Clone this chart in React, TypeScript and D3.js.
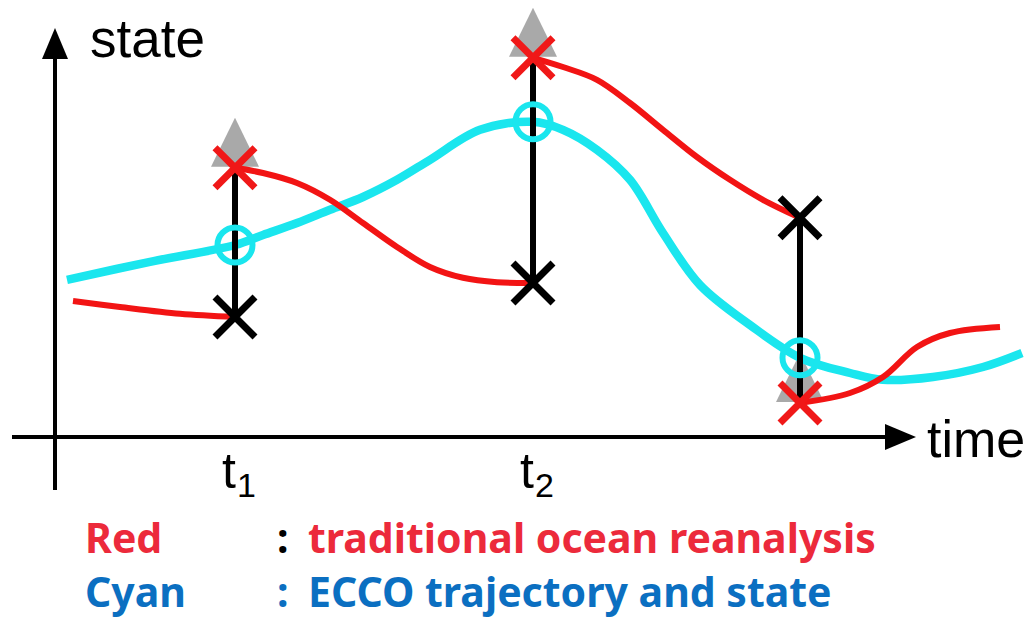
import { useEffect, useRef } from "react"
import * as d3 from "d3"

// analysis times and the states seen at each one
const analysisTimes = [1.8, 4.78, 7.45]
const tickSubs = ["1", "2", ""]
const forecastEnd = [6.73, 9.48, 0.85] // red X: where the model run got to
const observed = [3.0, 3.85, 5.48] // black X
const eccoAtObs = [4.8, 7.88, 1.98] // cyan circles

// red: traditional reanalysis, restarted at every analysis
const redSeg0: [number, number][] = [[0.18, 3.4], [0.65, 3.25], [1.25, 3.08], [1.8, 3.0]]
const redSeg1: [number, number][] = [
  [1.8, 6.73], [2.08, 6.6], [2.42, 6.35], [2.75, 5.93], [3.08, 5.35], [3.42, 4.75], [3.75, 4.25], [4.08, 3.98], [4.42, 3.87], [4.78, 3.85],
]
const redSeg2: [number, number][] = [
  [4.78, 9.48], [5.08, 9.25], [5.42, 8.93], [5.75, 8.35], [6.08, 7.68], [6.42, 7.0], [6.75, 6.43], [7.08, 5.93], [7.45, 5.48],
]
const redSeg3: [number, number][] = [[7.45, 0.85], [7.95, 1.1], [8.28, 1.5], [8.62, 2.25], [8.95, 2.6], [9.45, 2.75]]
const redSegments = [redSeg0, redSeg1, redSeg2, redSeg3]

// cyan: ECCO continuous trajectory
const cyanPath: [number, number][] = [
  [0.12, 3.93], [0.95, 4.38], [1.8, 4.8], [2.08, 5.05], [2.42, 5.35], [2.75, 5.68], [3.08, 6.0], [3.42, 6.43],
  [3.75, 6.93], [4.25, 7.68], [4.78, 7.88], [5.08, 7.68], [5.42, 7.18], [5.75, 6.43], [6.08, 5.1], [6.45, 3.8],
  [6.95, 2.8], [7.45, 1.98], [7.95, 1.6], [8.28, 1.43], [8.78, 1.5], [9.28, 1.75], [9.67, 2.1],
]

const legendNames = ["Red", "Cyan"]
const legendTexts = ["traditional ocean reanalysis", "ECCO trajectory and state"]
const legendColors = ["#ec2a3b", "#0b6fc1"]
const colonColors = ["#000000", "#0b6fc1"]

const RED = "#f21414"
const CYAN = "#1ae6ee"

export default function App() {
  const svgRef = useRef<SVGSVGElement>(null)

  useEffect(() => {
    if (!svgRef.current) return
    const svg = d3.select(svgRef.current)
    svg.selectAll("*").remove()

    const x = d3.scaleLinear().domain([0, 9]).range([55, 955])
    const y = d3.scaleLinear().domain([0, 10]).range([437, 37])

    const line = d3
      .line<[number, number]>()
      .x((d) => x(d[0]))
      .y((d) => y(d[1]))
      .curve(d3.curveCatmullRom.alpha(0.5))

    // axes
    const axisG = svg.append("g")
    axisG.append("line").attr("x1", x(0)).attr("x2", x(0)).attr("y1", 490).attr("y2", 52)
      .attr("stroke", "#000").attr("stroke-width", 4)
    axisG.append("path").attr("d", `M${x(0)},28 L${x(0) - 13},59 L${x(0) + 13},59 Z`).attr("fill", "#000")
    axisG.append("line").attr("x1", 12).attr("x2", 892).attr("y1", y(0)).attr("y2", y(0))
      .attr("stroke", "#000").attr("stroke-width", 4)
    axisG.append("path").attr("d", `M916,${y(0)} L885,${y(0) - 13} L885,${y(0) + 13} Z`).attr("fill", "#000")

    axisG.append("text").attr("x", 90).attr("y", 57).attr("font-family", "Liberation Sans, Arial, sans-serif")
      .attr("font-size", 53).attr("fill", "#000").text("state")
    axisG.append("text").attr("x", 927).attr("y", 457).attr("font-family", "Liberation Sans, Arial, sans-serif")
      .attr("font-size", 52).attr("fill", "#000").text("time")

    // tick labels t1, t2
    analysisTimes.forEach((t, i) => {
      if (!tickSubs[i]) return
      const txt = axisG.append("text").attr("x", x(t) - 13).attr("y", 488)
        .attr("font-family", "Liberation Sans, Arial, sans-serif").attr("font-size", 50).attr("fill", "#000")
      txt.append("tspan").text("t")
      txt.append("tspan").attr("font-size", 34).attr("dy", 9).attr("dx", 1).text(tickSubs[i])
    })

    // gray triangles above the red analysis points
    svg.append("g").selectAll("path")
      .data(analysisTimes)
      .join("path")
      .attr("d", (t, i) => {
        const cx = x(t), cy = y(forecastEnd[i])
        return `M${cx},${cy - 50} L${cx - 24},${cy - 1} L${cx + 24},${cy - 1} Z`
      })
      .attr("fill", "#a9a9a9")

    // cyan trajectory
    svg.append("path").attr("d", line(cyanPath)).attr("fill", "none").attr("stroke", CYAN)
      .attr("stroke-width", 8.5).attr("stroke-linecap", "butt")

    // red segments
    svg.append("g").selectAll("path")
      .data(redSegments)
      .join("path")
      .attr("d", (d) => line(d))
      .attr("fill", "none")
      .attr("stroke", RED)
      .attr("stroke-width", 6)

    // vertical analysis increments
    svg.append("g").selectAll("line")
      .data(analysisTimes)
      .join("line")
      .attr("x1", (t) => x(t)).attr("x2", (t) => x(t))
      .attr("y1", (t, i) => y(forecastEnd[i])).attr("y2", (t, i) => y(observed[i]))
      .attr("stroke", "#000").attr("stroke-width", 6)

    // cyan circles
    svg.append("g").selectAll("circle")
      .data(analysisTimes)
      .join("circle")
      .attr("cx", (t) => x(t)).attr("cy", (t, i) => y(eccoAtObs[i]))
      .attr("r", 17.5).attr("fill", "none").attr("stroke", CYAN).attr("stroke-width", 6)

    const drawX = (vals: number[], color: string) => {
      const g = svg.append("g")
      analysisTimes.forEach((t, i) => {
        const cx = x(t), cy = y(vals[i]), s = 20
        g.append("path")
          .attr("d", `M${cx - s},${cy - s} L${cx + s},${cy + s} M${cx - s},${cy + s} L${cx + s},${cy - s}`)
          .attr("stroke", color).attr("stroke-width", 7).attr("fill", "none")
      })
    }
    drawX(observed, "#000")
    drawX(forecastEnd, "#f01818")

    // legend
    const lg = svg.append("g").attr("font-family", "Noto Sans, Open Sans, sans-serif").attr("font-weight", 700)
      .attr("font-size", 41)
    legendNames.forEach((name, i) => {
      const yy = 553 + i * 54
      lg.append("text").attr("x", 85).attr("y", yy).attr("fill", legendColors[i]).text(name)
      lg.append("text").attr("x", 277).attr("y", yy).attr("fill", colonColors[i]).text(":")
      lg.append("text").attr("x", 308).attr("y", yy).attr("fill", legendColors[i]).text(legendTexts[i])
    })
  }, [])

  return (
    <svg
      ref={svgRef}
      width={1032}
      height={617}
      style={{ position: "absolute", left: 0, top: 0, background: "#fff" }}
    />
  )
}
